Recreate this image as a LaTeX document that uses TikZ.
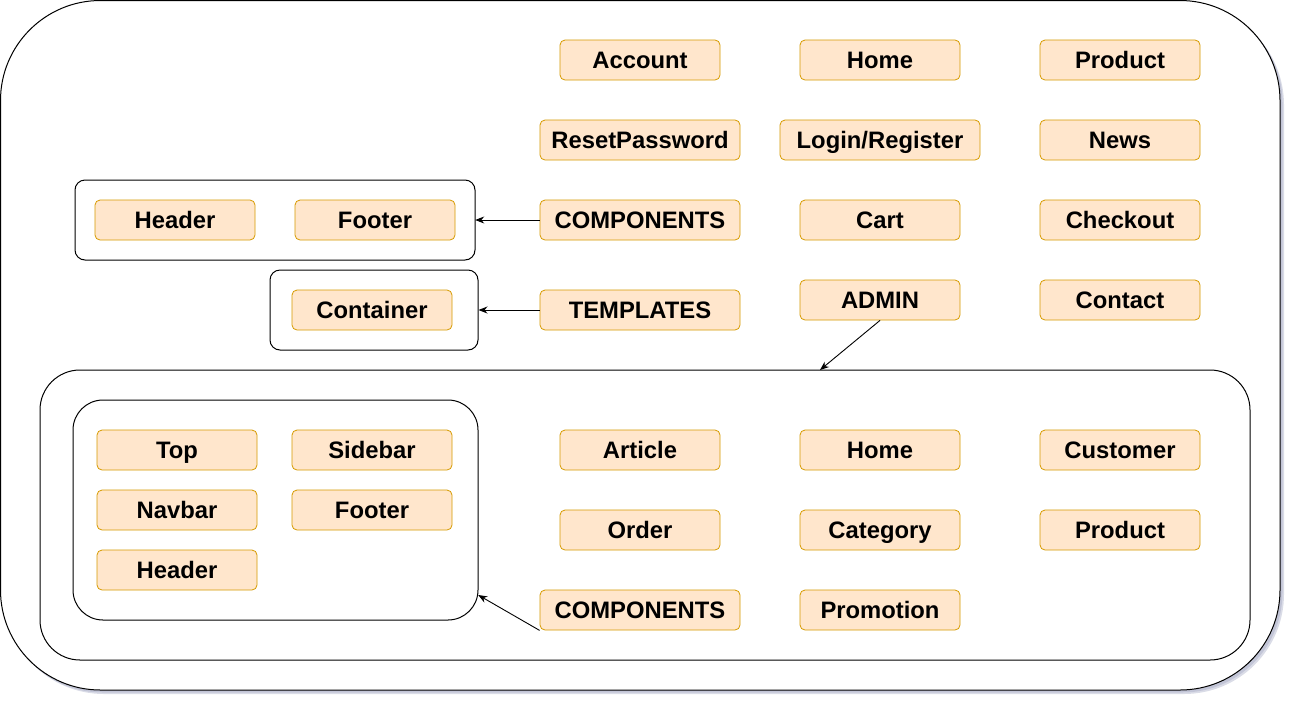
\documentclass[tikz,border=0pt]{standalone}
\usepackage{fontspec}
\setmainfont{Liberation Sans}
\usetikzlibrary{shadows,calc,arrows.meta}
\definecolor{boxfill}{HTML}{FFE6CC}
\definecolor{boxline}{HTML}{D79B00}
\tikzset{
  item/.style={draw=boxline, fill=boxfill, rounded corners=5pt, line width=0.8pt,
    minimum height=40pt, minimum width=160pt, inner sep=0pt,
    text height=16.5pt, text depth=0pt,
    font=\fontsize{23.8}{27}\selectfont\bfseries},
  wide/.style={item, minimum width=200pt},
  frame/.style={draw=black, line width=1pt},
  conn/.style={draw=black, line width=0.9pt, -{Stealth[length=9pt,width=7pt]}},
}
\begin{document}
\begin{tikzpicture}[x=1pt,y=-1pt]
\useasboundingbox (0,0) rectangle (1292,702);
% outer frame with shadow
\fill[color={rgb,255:red,150;green,155;blue,185}, opacity=0.35, rounded corners=100pt] (4,5) rectangle (1284,694);
\fill[color={rgb,255:red,150;green,155;blue,185}, opacity=0.35, rounded corners=100pt] (2.5,3) rectangle (1282.5,692.5);
\draw[frame, fill=white, rounded corners=100pt] (0.5,0.5) rectangle (1280,690);
% group frames
\draw[frame, rounded corners=40pt] (40,370) rectangle (1250,660);
\draw[frame, rounded corners=10pt] (75,180) rectangle (475,260);
\node[frame, rounded corners=10pt, minimum width=208pt, minimum height=80pt, inner sep=0pt] (tbox) at (374,310) {};
\node[inner sep=0pt, minimum width=400pt, minimum height=80pt] (cbox) at (275,220) {};
\draw[frame, rounded corners=30pt] (73,400) rectangle (478,620);
\node[inner sep=0pt, minimum width=405pt, minimum height=220pt] (abox) at (275.5,510) {};
\coordinate (adminedge) at (820,370);

% top level
\node[item] (account) at (640,60) {Account};
\node[item] (home) at (880,60) {Home};
\node[item] (product) at (1120,60) {Product};
\node[wide] (reset) at (640,140) {ResetPassword};
\node[wide] (login) at (880,140) {Login/Register};
\node[item] (news) at (1120,140) {News};
\node[wide] (comp) at (640,220) {COMPONENTS};
\node[item] (cart) at (880,220) {Cart};
\node[item] (checkout) at (1120,220) {Checkout};
\node[wide] (templ) at (640,310) {TEMPLATES};
\node[item] (admin) at (880,300) {ADMIN};
\node[item] (contact) at (1120,300) {Contact};

\node[item] (header) at (175,220) {Header};
\node[item] (footer) at (375,220) {Footer};
\node[item] (container) at (372,310) {Container};

% admin
\node[item] (atop) at (177,450) {Top};
\node[item] (asidebar) at (372,450) {Sidebar};
\node[item] (anavbar) at (177,510) {Navbar};
\node[item] (afooter) at (372,510) {Footer};
\node[item] (aheader) at (177,570) {Header};
\node[item] (article) at (640,450) {Article};
\node[item] (ahome) at (880,450) {Home};
\node[item] (customer) at (1120,450) {Customer};
\node[item] (order) at (640,530) {Order};
\node[item] (category) at (880,530) {Category};
\node[item] (aproduct) at (1120,530) {Product};
\node[wide] (acomp) at (640,610) {COMPONENTS};
\node[item] (promo) at (880,610) {Promotion};

% connectors
\draw[conn] (comp.west) -- (cbox.east);
\draw[conn] (templ.west) -- (tbox.east);
\draw[conn] (admin.south) -- (adminedge);
\draw[conn] (acomp.south west) -- ($(abox.east)+(0,85)$);
\end{tikzpicture}
\end{document}
